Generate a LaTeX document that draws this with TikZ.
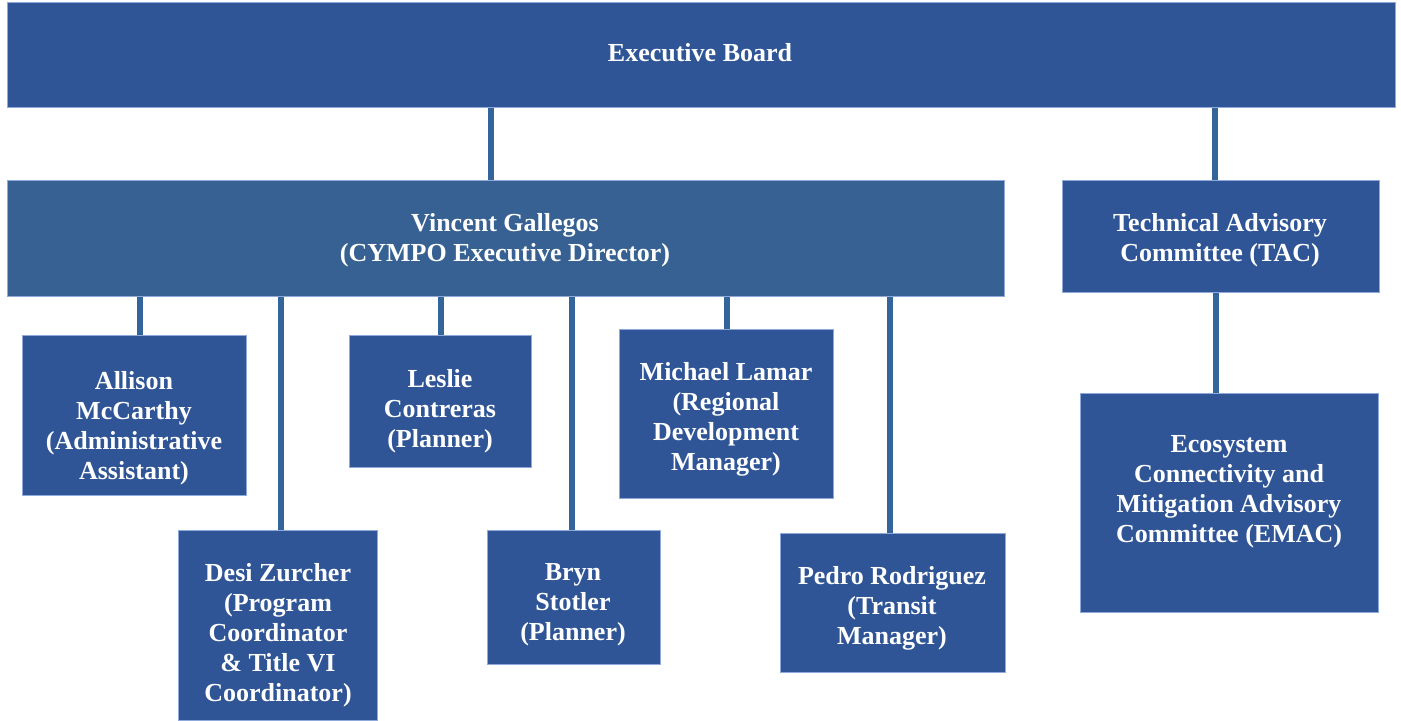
\documentclass[tikz,border=0pt]{standalone}
\usepackage{fontspec}
\setmainfont{Liberation Serif}
\definecolor{boxblue}{HTML}{2F5597}
\definecolor{dirblue}{HTML}{366192}
\definecolor{edgeblue}{HTML}{8EA9DB}
\definecolor{lineblue}{HTML}{35649A}
\tikzset{
  orgbox/.style={rectangle, fill=boxblue, draw=edgeblue, line width=0.5pt, inner sep=0pt},
  orgtext/.style={text=white, font=\fontsize{13}{15}\selectfont\bfseries, align=center, inner sep=0pt},
  orgline/.style={draw=lineblue, line width=3pt},
}
\begin{document}
\begin{tikzpicture}[x=0.5pt,y=-0.5pt]
\useasboundingbox (0,0) rectangle (1401,721);
% boxes
\node[orgbox, minimum width=694pt, minimum height=52.5pt] (exec) at (701,55.5) {};
\node[orgbox, fill=dirblue, minimum width=498.5pt, minimum height=58pt] (vinc) at (505.5,239) {};
\node[orgbox, minimum width=158.5pt, minimum height=56pt] (tac) at (1220.5,237) {};
\node[orgbox, minimum width=112pt, minimum height=79.5pt] (allison) at (134,415.5) {};
\node[orgbox, minimum width=99.5pt, minimum height=95pt] (desi) at (277.5,625) {};
\node[orgbox, minimum width=91pt, minimum height=65.5pt] (leslie) at (440,401.5) {};
\node[orgbox, minimum width=86.5pt, minimum height=67pt] (bryn) at (573.5,597) {};
\node[orgbox, minimum width=107pt, minimum height=84pt] (michael) at (726,414) {};
\node[orgbox, minimum width=112.5pt, minimum height=69.5pt] (pedro) at (892.5,602.5) {};
\node[orgbox, minimum width=149pt, minimum height=109.5pt] (emac) at (1229,502.5) {};
% texts
\node[orgtext] (execT) at (700,53) {Executive Board};
\node[orgtext] (vincT) at (505,240) {Vincent Gallegos\\(CYMPO Executive Director)};
\node[orgtext] (tacT) at (1220,240) {Technical Advisory\\Committee (TAC)};
\node[orgtext] (allisonT) at (134,428) {Allison\\McCarthy\\(Administrative\\Assistant)};
\node[orgtext] (desiT) at (278,635) {Desi Zurcher\\(Program\\Coordinator\\\& Title VI\\Coordinator)};
\node[orgtext] (leslieT) at (440,411) {Leslie\\Contreras\\(Planner)};
\node[orgtext] (brynT) at (573,605) {Bryn\\Stotler\\(Planner)};
\node[orgtext] (michaelT) at (726,419.5) {Michael Lamar\\(Regional\\Development\\Manager)};
\node[orgtext] (pedroT) at (892,608) {Pedro Rodriguez\\(Transit\\Manager)};
\node[orgtext] (emacT) at (1229,491.5) {Ecosystem\\Connectivity and\\Mitigation Advisory\\Committee (EMAC)};
% connectors
\draw[orgline] ([xshift=-7.5pt]vinc.north) -- ([xshift=-7.5pt]vinc.north |- exec.south);
\draw[orgline] ([xshift=-2.75pt]tac.north) -- ([xshift=-2.75pt]tac.north |- exec.south);
\draw[orgline] ([xshift=3pt]allison.north) -- ([xshift=3pt]allison.north |- vinc.south);
\draw[orgline] ([xshift=1.75pt]desi.north) -- ([xshift=1.75pt]desi.north |- vinc.south);
\draw[orgline] ([xshift=0.5pt]leslie.north) -- ([xshift=0.5pt]leslie.north |- vinc.south);
\draw[orgline] ([xshift=-0.75pt]bryn.north) -- ([xshift=-0.75pt]bryn.north |- vinc.south);
\draw[orgline] ([xshift=0.5pt]michael.north) -- ([xshift=0.5pt]michael.north |- vinc.south);
\draw[orgline] ([xshift=-1.25pt]pedro.north) -- ([xshift=-1.25pt]pedro.north |- vinc.south);
\draw[orgline] ([xshift=-6.5pt]emac.north) -- ([xshift=-6.5pt]emac.north |- tac.south);
\end{tikzpicture}
\end{document}
